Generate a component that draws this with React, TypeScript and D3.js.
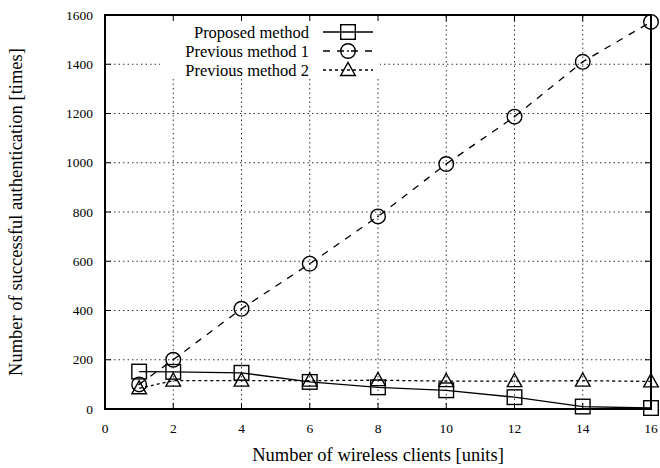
import React from "react";
import * as d3 from "d3";

const clients = [1, 2, 4, 6, 8, 10, 12, 14, 16];
const proposed = [152, 151, 147, 110, 88, 76, 48, 10, 4];
const previous1 = [100, 200, 407, 590, 782, 995, 1187, 1410, 1572];
const previous2 = [84, 115, 115, 115, 117, 113, 113, 115, 112];
const xTicks = [0, 2, 4, 6, 8, 10, 12, 14, 16];
const yTicks = [0, 200, 400, 600, 800, 1000, 1200, 1400, 1600];
const seriesNames = ["Proposed method", "Previous method 1", "Previous method 2"];

const W = 660, H = 468;
const L = 105, R = 651, T = 15, B = 409;
const font = "'Liberation Serif', 'Times New Roman', Times, serif";

function Marker({ kind, x, y }: { kind: number; x: number; y: number }) {
  const s = 7.3;
  if (kind === 0)
    return <rect x={x - s} y={y - s} width={2 * s} height={2 * s} fill="none" stroke="#000" strokeWidth={1.4} />;
  if (kind === 1)
    return (
      <g>
        <circle cx={x} cy={y} r={s} fill="none" stroke="#000" strokeWidth={1.4} />
        <circle cx={x} cy={y} r={0.9} fill="#000" />
      </g>
    );
  return (
    <path
      d={`M${x},${y - s * 1.05} L${x + s},${y + s * 0.75} L${x - s},${y + s * 0.75} Z`}
      fill="none"
      stroke="#000"
      strokeWidth={1.4}
    />
  );
}

export default function App() {
  const x = d3.scaleLinear().domain([0, 16]).range([L, R]);
  const y = d3.scaleLinear().domain([0, 1600]).range([B, T]);
  const series = [proposed, previous1, previous2];
  const dashes = ["none", "7,7", "3,3"];
  const line = d3.line<number>().x((_, i) => x(clients[i])).y((d) => y(d));

  const legX = 309;
  const legY = [32, 51, 70];

  return (
    <svg width={W} height={H} style={{ position: "absolute", left: 0, top: 0, background: "#fff" }}>
      <rect x={0} y={0} width={W} height={H} fill="#fff" />
      <g stroke="#000" strokeWidth={0.8} strokeDasharray="1.5,3">
        {xTicks.slice(1, -1).map((t) => (
          <line key={"gx" + t} x1={x(t)} x2={x(t)} y1={B} y2={T} />
        ))}
        {yTicks.slice(1, -1).map((t) => (
          <line key={"gy" + t} x1={L} x2={R} y1={y(t)} y2={y(t)} />
        ))}
      </g>
      <rect x={160} y={T + 1} width={220} height={63} fill="#fff" />
      <g stroke="#000" strokeWidth={1}>
        {xTicks.map((t) => (
          <g key={"tx" + t}>
            <line x1={x(t)} x2={x(t)} y1={B} y2={B - 6} />
            <line x1={x(t)} x2={x(t)} y1={T} y2={T + 6} />
          </g>
        ))}
        {yTicks.map((t) => (
          <g key={"ty" + t}>
            <line x1={L} x2={L + 6} y1={y(t)} y2={y(t)} />
            <line x1={R} x2={R - 6} y1={y(t)} y2={y(t)} />
          </g>
        ))}
      </g>
      {series.map((s, k) => (
        <g key={"s" + k}>
          <path d={line(s) || ""} fill="none" stroke="#000" strokeWidth={1.3} strokeDasharray={dashes[k]} />
          {s.map((v, i) => (
            <Marker key={i} kind={k} x={x(clients[i])} y={y(v)} />
          ))}
        </g>
      ))}
      <rect x={L} y={T} width={R - L} height={B - T} fill="none" stroke="#000" strokeWidth={2} />
      <g fontFamily={font} fontSize={13.5} fill="#000">
        {xTicks.map((t) => (
          <text key={"lx" + t} x={x(t)} y={B + 24} textAnchor="middle">
            {t}
          </text>
        ))}
        {yTicks.map((t) => (
          <text key={"ly" + t} x={L - 12} y={y(t) + 4.5} textAnchor="end">
            {t}
          </text>
        ))}
      </g>
      <text x={(L + R) / 2} y={461} textAnchor="middle" fontFamily={font} fontSize={18.5}>
        Number of wireless clients [units]
      </text>
      <text
        transform={`translate(22,${(T + B) / 2}) rotate(-90)`}
        textAnchor="middle"
        fontFamily={font}
        fontSize={18.5}
      >
        Number of successful authentication [times]
      </text>
      {seriesNames.map((n, k) => (
        <g key={"lg" + k}>
          <text x={legX} y={legY[k] + 5.5} textAnchor="end" fontFamily={font} fontSize={16.5}>
            {n}
          </text>
          <line x1={323} x2={373} y1={legY[k]} y2={legY[k]} stroke="#000" strokeWidth={1.3} strokeDasharray={dashes[k]} />
          <Marker kind={k} x={348} y={legY[k]} />
        </g>
      ))}
    </svg>
  );
}
